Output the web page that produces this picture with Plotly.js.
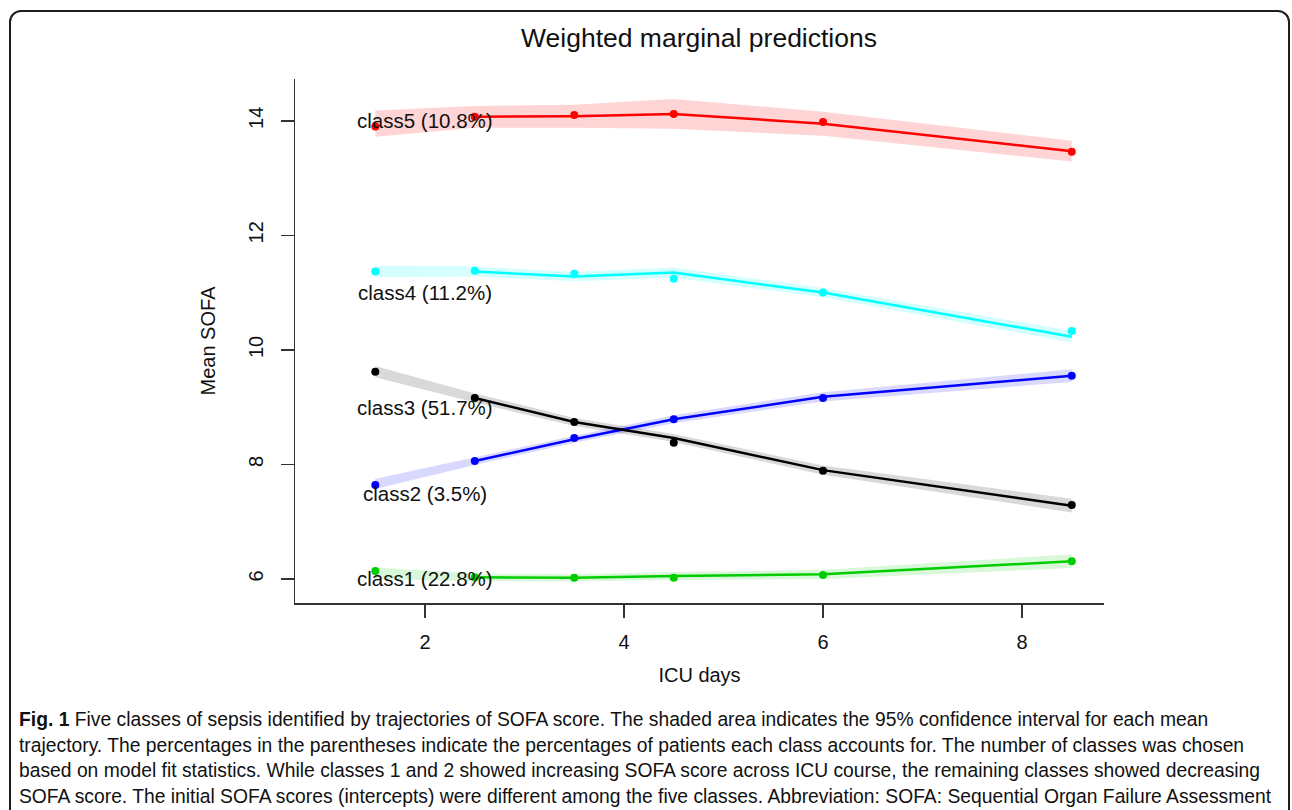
<!DOCTYPE html>
<html>
<head>
<meta charset="utf-8">
<script src="https://cdn.plot.ly/plotly-3.0.1.min.js"></script>
<style>
  html, body { margin: 0; padding: 0; background: #fff; overflow: hidden; }
  #chart { position: absolute; left: 0; top: 0; width: 1292px; height: 810px; }
  #frame { position: absolute; left: 9px; top: 10px; width: 1277px; height: 900px;
           border: 2px solid #1e1e1e; border-radius: 12px; pointer-events: none; }
</style>
</head>
<body>
<div id="chart"></div>
<div id="frame"></div>
<script>
// ICU day of each measurement
const days = [1.5, 2.5, 3.5, 4.5, 6, 8.5];

// observed mean SOFA (dots)
const obs1 = [6.14, 6.03, 6.02, 6.02, 6.07, 6.31];
const obs2 = [7.64, 8.06, 8.46, 8.79, 9.16, 9.55];
const obs3 = [9.62, 9.16, 8.74, 8.38, 7.89, 7.29];
const obs4 = [11.37, 11.38, 11.33, 11.24, 11.00, 10.33];
const obs5 = [13.90, 14.07, 14.10, 14.12, 13.98, 13.46];

// predicted mean SOFA (lines)
const pred1 = [6.10, 6.03, 6.02, 6.05, 6.08, 6.31];
const pred2 = [7.66, 8.06, 8.44, 8.79, 9.18, 9.55];
const pred3 = [9.62, 9.16, 8.74, 8.46, 7.90, 7.28];
const pred4 = [11.37, 11.37, 11.28, 11.35, 11.00, 10.23];
const pred5 = [13.95, 14.07, 14.08, 14.12, 13.95, 13.47];

// half-width of the 95% confidence band
const ci1 = [0.10, 0.07, 0.06, 0.07, 0.08, 0.12];
const ci2 = [0.09, 0.07, 0.06, 0.07, 0.08, 0.11];
const ci3 = [0.10, 0.08, 0.07, 0.07, 0.08, 0.12];
const ci4 = [0.10, 0.09, 0.08, 0.09, 0.08, 0.10];
const ci5 = [0.23, 0.19, 0.20, 0.26, 0.21, 0.18];

// class labels and where they sit
const classLabels = ["class1 (22.8%)", "class2 (3.5%)", "class3 (51.7%)", "class4 (11.2%)", "class5 (10.8%)"];
const labelX = [2, 2, 2, 2, 2];
const labelY = [6, 7.5, 9, 11, 14];

const xTicks = [2, 4, 6, 8];
const yTicks = [6, 8, 10, 12, 14];

const captionLines = [
  "<b>Fig. 1</b> Five classes of sepsis identified by trajectories of SOFA score. The shaded area indicates the 95% confidence interval for each mean",
  "trajectory. The percentages in the parentheses indicate the percentages of patients each class accounts for. The number of classes was chosen",
  "based on model fit statistics. While classes 1 and 2 showed increasing SOFA score across ICU course, the remaining classes showed decreasing",
  "SOFA score. The initial SOFA scores (intercepts) were different among the five classes. Abbreviation: SOFA: Sequential Organ Failure Assessment"
];

const series = [
  {obs: obs1, pred: pred1, ci: ci1, color: "#00CD00", band: "rgba(0,205,0,0.15)"},
  {obs: obs2, pred: pred2, ci: ci2, color: "#0000FF", band: "rgba(0,0,255,0.15)"},
  {obs: obs3, pred: pred3, ci: ci3, color: "#000000", band: "rgba(0,0,0,0.15)"},
  {obs: obs4, pred: pred4, ci: ci4, color: "#00FFFF", band: "rgba(0,255,255,0.17)"},
  {obs: obs5, pred: pred5, ci: ci5, color: "#FF0000", band: "rgba(255,0,0,0.17)"}
];

// layout geometry (pixels)
const W = 1292, H = 810;
const M = {l: 295, r: 188, t: 79, b: 207};
const pw = W - M.l - M.r, ph = H - M.t - M.b;
const px = x => (x - M.l) / pw;
const py = y => (H - M.b - y) / ph;

const traces = [];
series.forEach(s => {
  const up = s.pred.map((v, i) => v + s.ci[i]);
  const lo = s.pred.map((v, i) => v - s.ci[i]);
  traces.push({
    x: days.concat(days.slice().reverse()),
    y: up.concat(lo.slice().reverse()),
    type: "scatter", mode: "lines", fill: "toself",
    fillcolor: s.band, line: {width: 0, color: "rgba(0,0,0,0)"},
    hoverinfo: "skip", showlegend: false
  });
});
series.forEach(s => {
  traces.push({
    x: days.slice(1), y: s.pred.slice(1),
    type: "scatter", mode: "lines",
    line: {color: s.color, width: 2.5}, showlegend: false
  });
});
series.forEach(s => {
  traces.push({
    x: days, y: s.obs,
    type: "scatter", mode: "markers",
    marker: {color: s.color, size: 8}, showlegend: false
  });
});

const font = "Liberation Sans, Arial, Helvetica, sans-serif";
const annotations = classLabels.map((t, i) => ({
  x: labelX[i], y: labelY[i], xref: "x", yref: "y", text: t,
  showarrow: false, xanchor: "center", yanchor: "middle",
  font: {family: font, size: 20.5, color: "#111"}
}));
const capY = [719, 745, 771, 796];
captionLines.forEach((t, i) => {
  annotations.push({
    x: px(17), y: py(capY[i]), xref: "paper", yref: "paper", text: t,
    showarrow: false, xanchor: "left", yanchor: "middle", align: "left",
    font: {family: "Liberation Sans Narrow, Liberation Sans, Arial, sans-serif", size: 19.3, color: "#111"}
  });
});

const axisCommon = {
  showgrid: false, zeroline: false, showline: true, linecolor: "#333", linewidth: 1.5,
  ticks: "outside", ticklen: 13, tickcolor: "#333", tickwidth: 1.5,
  tickfont: {family: font, size: 20, color: "#111"}, mirror: false
};

const layout = {
  width: W, height: H,
  margin: M,
  paper_bgcolor: "#fff", plot_bgcolor: "#fff",
  title: {text: "Weighted marginal predictions", x: 699 / W, xanchor: "center",
          y: 1 - 38 / H, yanchor: "middle",
          font: {family: font, size: 26.5, color: "#111"}},
  xaxis: Object.assign({}, axisCommon, {
    range: [0.693, 8.824], tickvals: xTicks, ticktext: xTicks.map(String),
    ticklabelstandoff: 7,
    title: {text: "ICU days", font: {family: font, size: 20, color: "#111"}, standoff: 16}
  }),
  yaxis: Object.assign({}, axisCommon, {
    range: [5.58, 14.73], tickvals: yTicks, ticktext: yTicks.map(String),
    tickangle: -90, ticklabelstandoff: 10,
    title: {text: "Mean SOFA", font: {family: font, size: 20, color: "#111"}, standoff: 23}
  }),
  annotations: annotations,
  showlegend: false
};

Plotly.newPlot("chart", traces, layout, {displayModeBar: false, staticPlot: true});
</script>
</body>
</html>
